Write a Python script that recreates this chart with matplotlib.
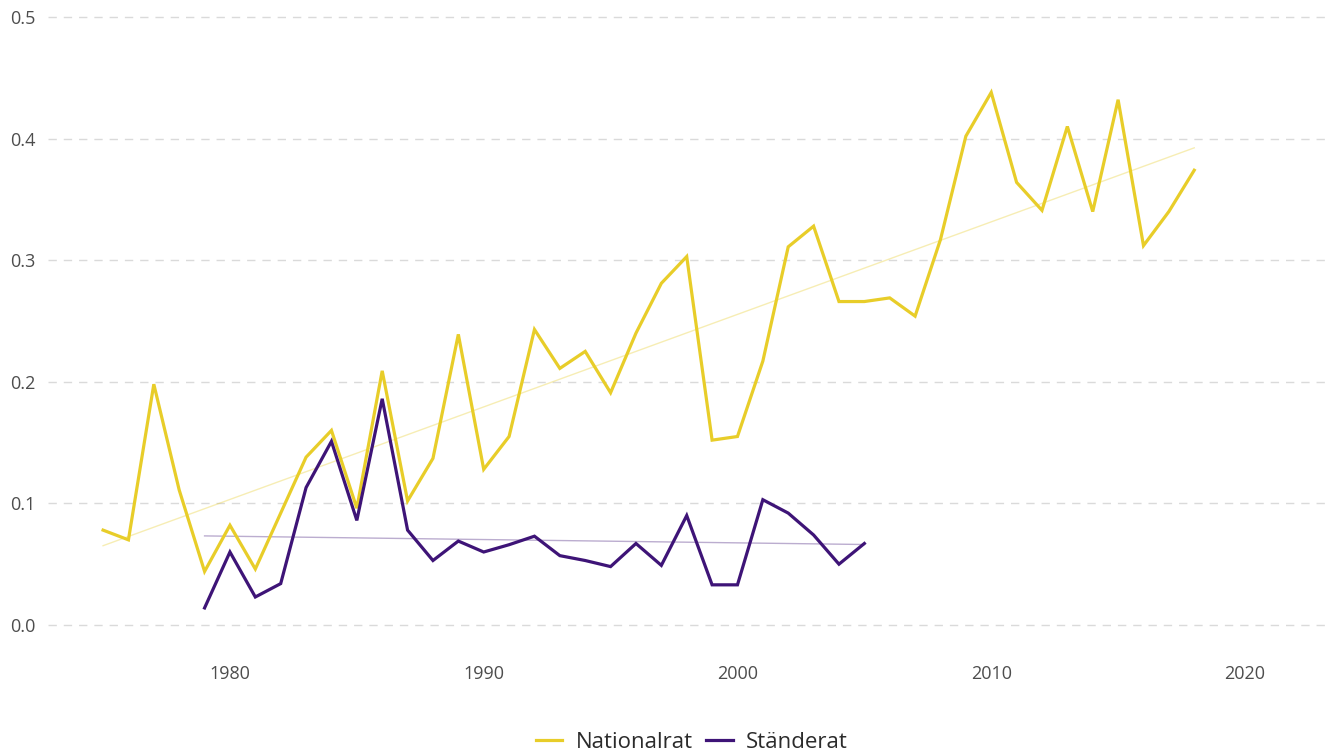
import numpy as np
import matplotlib
matplotlib.use("Agg")
import matplotlib.pyplot as plt

plt.rcParams['font.family'] = ['Open Sans', 'DejaVu Sans']

nr_years = list(range(1975, 2019))
nr_values = [0.078, 0.070, 0.198, 0.111, 0.044, 0.082, 0.046, 0.092, 0.138, 0.160,
             0.096, 0.209, 0.102, 0.137, 0.239, 0.128, 0.155, 0.243, 0.211, 0.225,
             0.191, 0.240, 0.281, 0.303, 0.152, 0.155, 0.217, 0.311, 0.328, 0.266,
             0.266, 0.269, 0.254, 0.317, 0.402, 0.438, 0.364, 0.341, 0.410, 0.340,
             0.432, 0.312, 0.340, 0.374]

sr_years = list(range(1979, 2006))
sr_values = [0.014, 0.060, 0.023, 0.034, 0.113, 0.151, 0.086, 0.186, 0.078, 0.053,
             0.069, 0.060, 0.066, 0.073, 0.057, 0.053, 0.048, 0.067, 0.049, 0.090,
             0.033, 0.033, 0.103, 0.092, 0.074, 0.050, 0.067]

series_names = ["Nationalrat", "Ständerat"]
colors = ["#E8CD29", "#3E1477"]
x_ticks = [1980, 1990, 2000, 2010, 2020]
y_ticks = [0.0, 0.1, 0.2, 0.3, 0.4, 0.5]

W, H = 1338, 753
fig = plt.figure(figsize=(W / 100, H / 100), dpi=100)
ax_l, ax_r, ax_t, ax_b = 48, 1330, 5, 650
ax = fig.add_axes([ax_l / W, 1 - ax_b / H, (ax_r - ax_l) / W, (ax_b - ax_t) / H])

for yrs, vals, name, col in [(nr_years, nr_values, series_names[0], colors[0]),
                             (sr_years, sr_values, series_names[1], colors[1])]:
    x = np.array(yrs, dtype=float)
    y = np.array(vals)
    ax.plot(x, y, color=col, lw=2.3, label=name, solid_joinstyle='miter', zorder=3)
    m, b = np.polyfit(x, y, 1)
    ax.plot([x[0], x[-1]], [m * x[0] + b, m * x[-1] + b], color=col, lw=1.0,
            alpha=0.35, zorder=2)

ax.set_xlim(1972.83, 2023.35)
ax.set_ylim(-0.0206, 0.5099)
ax.set_xticks(x_ticks)
ax.set_yticks(y_ticks)
ax.set_yticklabels([f"{v:.1f}" for v in y_ticks])
ax.grid(axis='y', color='#DADADA', lw=1.0, dashes=(6, 5))
ax.grid(axis='x', visible=False)
for s in ax.spines.values():
    s.set_visible(False)
ax.tick_params(length=0, labelsize=13, labelcolor='#4D4D4D')
ax.tick_params(axis='y', pad=9)
ax.tick_params(axis='x', pad=11)

leg = fig.legend(loc='center', bbox_to_anchor=(0.517, 1 - 742 / H), ncol=2, frameon=False,
                 fontsize=16, handlelength=1.2, handletextpad=0.6, columnspacing=0.6)
for t in leg.get_texts():
    t.set_color('#2B2B2B')

fig.savefig("out.png", dpi=100)
